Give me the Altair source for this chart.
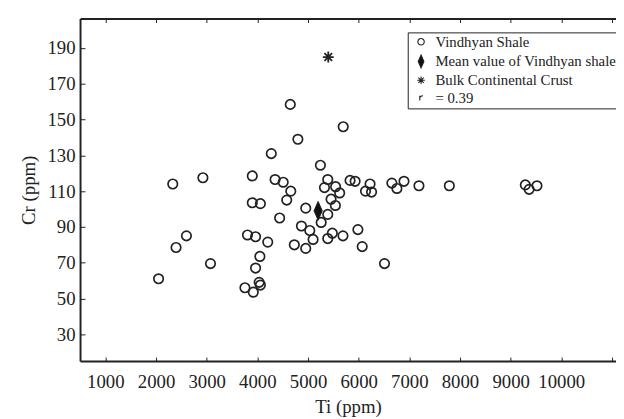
import altair as alt
import pandas as pd

# ---- data ----
ti_shale = [2050, 2330, 2395, 2600, 2925, 3075, 3805, 3900, 3900, 3965,
            4205, 4060, 4050, 3965, 3755, 3920, 4060, 4035, 4275, 4350,
            4510, 4440, 4580, 4660, 4650, 4800, 4730, 4870, 4955, 4955,
            5035, 5100, 5245, 5260, 5390, 5390, 5480, 5690, 5390, 5325,
            5545, 5625, 5455, 5540, 5830, 5930, 6135, 6255, 6225, 5985,
            6070, 6510, 6655, 6755, 6895, 7190, 7790, 9290, 9365, 9520, 5695]
cr_shale = [61, 114, 78.5, 85, 117.5, 69.5, 85.5, 118.5, 103.5, 84.5,
            81.5, 103, 73.5, 67, 56, 53.5, 57.5, 59, 131, 116.5,
            115, 95, 105, 110, 158.5, 139, 80, 90.5, 100.5, 78,
            88, 83, 124.5, 92.5, 97, 83.5, 86.5, 85, 116.5, 112,
            112.5, 109, 105.5, 102, 116, 115.5, 110, 109.5, 114, 88.5,
            79, 69.5, 114.5, 111.5, 115.5, 113, 113, 113.5, 111, 113, 146]
ti_mean = [5200]
cr_mean = [99]
ti_crust = [5400]
cr_crust = [185]

series_names = ["Vindhyan Shale", "Mean value of Vindhyan shale",
                "Bulk Continental Crust", "= 0.39"]
x_tick_values = [1000, 2000, 3000, 4000, 5000, 6000, 7000, 8000, 9000, 10000, 11000]
x_label_values = [1000, 2000, 3000, 4000, 5000, 6000, 7000, 8000, 9000, 10000]
y_tick_values = [30, 50, 70, 90, 110, 130, 150, 170, 190]

# ---- layout / style ----
W, H = 543, 347
FONT = "Liberation Serif"
INK = "#222222"

shape_paths = [
    "M0.5,0A0.5,0.5,0,1,1,-0.5,0A0.5,0.5,0,1,1,0.5,0Z",
    "M0,-1L0.44,0L0,1L-0.44,0Z",
    "M-0.6,0L0.6,0M0,-0.6L0,0.6M-0.42,-0.42L0.42,0.42M-0.42,0.42L0.42,-0.42",
    "M-0.2,-0.34L-0.2,0.38M-0.2,-0.04Q-0.05,-0.38,0.3,-0.36",
]
fill_range = ["transparent", "#111111", "#111111", "transparent"]
stroke_range = [INK, INK, INK, INK]

df_shale = pd.DataFrame({"ti": ti_shale, "cr": cr_shale, "series": series_names[0]})
df_mean = pd.DataFrame({"ti": ti_mean, "cr": cr_mean, "series": series_names[1]})
df_crust = pd.DataFrame({"ti": ti_crust, "cr": cr_crust, "series": series_names[2]})

xscale = alt.Scale(domain=[500, 11080], nice=False, zero=False)
yscale = alt.Scale(domain=[15, 206.5], nice=False, zero=False)

legend = alt.Legend(
    orient="none", legendX=332, legendY=14, direction="vertical",
    strokeColor=INK, fillColor="white", padding=2,
    labelFont=FONT, labelFontSize=15, labelColor=INK, labelOffset=7,
    labelLimit=400, symbolOffset=4,
    symbolSize=169, symbolStrokeWidth=1.1, symbolStrokeColor=INK,
    rowPadding=2,
)
shape_enc = alt.Shape("series:N", title=None,
                      scale=alt.Scale(domain=series_names, range=shape_paths),
                      legend=legend)
fill_enc = alt.Fill("series:N", title=None,
                    scale=alt.Scale(domain=series_names, range=fill_range),
                    legend=legend)
stroke_enc = alt.Stroke("series:N", title=None,
                        scale=alt.Scale(domain=series_names, range=stroke_range),
                        legend=legend)

lab = dict(labelFont=FONT, labelFontSize=19, labelColor=INK,
           titleFont=FONT, titleFontSize=19, titleColor=INK, titleFontWeight="normal",
           grid=False)

# main axes: labels + frame lines (left, bottom)
ax_x_main = alt.Axis(orient="bottom", values=x_label_values, ticks=False,
                     domain=True, domainColor=INK, domainWidth=2,
                     labelPadding=12, titlePadding=6, format="d", **lab)
ax_y_main = alt.Axis(orient="left", values=y_tick_values, ticks=False,
                     domain=True, domainColor=INK, domainWidth=2,
                     labelPadding=5, titlePadding=9, format="d", **lab)
# inward ticks on bottom and left
ax_x_ticks_bottom = alt.Axis(orient="top", offset=-H, values=x_tick_values,
                             ticks=True, tickSize=4, tickColor=INK, tickWidth=1,
                             labels=False, domain=False, grid=False)
ax_y_ticks_left = alt.Axis(orient="right", offset=-W, values=y_tick_values,
                           ticks=True, tickSize=5, tickColor=INK, tickWidth=1,
                           labels=False, domain=False, grid=False)
# top frame with inward ticks
ax_x_top = alt.Axis(orient="bottom", offset=-H, values=x_tick_values,
                    ticks=True, tickSize=4, tickColor=INK, tickWidth=1,
                    labels=False, domain=True, domainColor=INK, domainWidth=2,
                    grid=False)

shale = alt.Chart(df_shale).mark_point(
    filled=True, size=369, strokeWidth=1.7, opacity=1
).encode(
    x=alt.X("ti:Q", scale=xscale, axis=ax_x_main, title="Ti (ppm)"),
    y=alt.Y("cr:Q", scale=yscale, axis=ax_y_main, title="Cr (ppm)"),
    shape=shape_enc, fill=fill_enc, stroke=stroke_enc,
)

mean = alt.Chart(df_mean).mark_point(
    filled=True, size=361, strokeWidth=1, opacity=1
).encode(
    x=alt.X("ti:Q", scale=xscale, axis=ax_x_ticks_bottom, title=None),
    y=alt.Y("cr:Q", scale=yscale, axis=ax_y_ticks_left, title=None),
    shape=shape_enc, fill=fill_enc, stroke=stroke_enc,
)

crust = alt.Chart(df_crust).mark_point(
    filled=True, size=336, strokeWidth=1.8, opacity=1
).encode(
    x=alt.X("ti:Q", scale=xscale, axis=ax_x_top, title=None),
    y=alt.Y("cr:Q", scale=yscale, axis=None),
    shape=shape_enc, fill=fill_enc, stroke=stroke_enc,
)

chart = alt.layer(shale, mean, crust).resolve_axis(
    x="independent", y="independent"
).properties(
    width=W, height=H,
    autosize=alt.AutoSizeParams(type="none"),
    padding={"left": 73, "top": 8, "right": 0, "bottom": 56},
    background="white",
).configure_view(strokeWidth=0).configure_axis(titleColor=INK, labelColor=INK)

chart.save("out.html", embed_options={"renderer": "svg", "actions": False})
